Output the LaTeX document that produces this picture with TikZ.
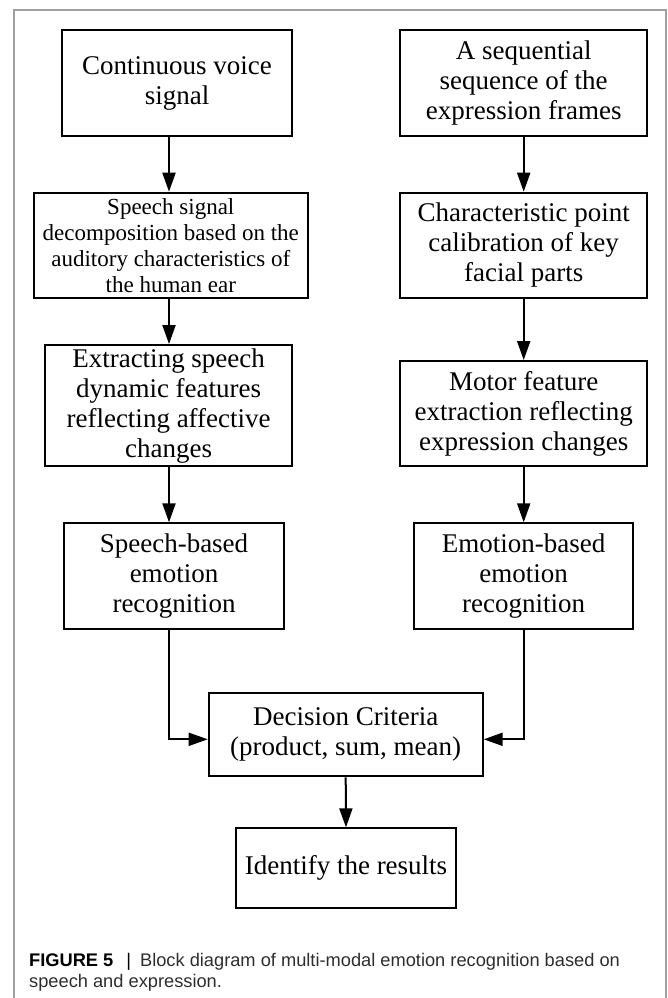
\documentclass[tikz,border=0pt]{standalone}
\usepackage{fontspec}
\setmainfont{Liberation Serif}
\newfontfamily\capfont{Liberation Sans}
\usetikzlibrary{arrows.meta}
\definecolor{framegray}{RGB}{160,160,160}
\definecolor{captext}{RGB}{45,45,45}
\tikzset{
  boxnode/.style={draw=black, line width=2pt, align=center, inner sep=0pt,
    font=\fontsize{27}{30}\selectfont},
  smallbox/.style={boxnode, font=\fontsize{23}{26}\selectfont},
  arr/.style={line width=2pt, -{Triangle[length=19pt,width=13pt]}},
  captionnode/.style={anchor=base west, inner sep=0pt, text=captext,
    font=\capfont\fontsize{18.25}{21}\selectfont}
}
\begin{document}
\begin{tikzpicture}[x=1pt,y=-1pt]
\useasboundingbox (0,0) rectangle (668,998);
% frame
\draw[framegray, line width=1.2pt] (14,998) -- (14,10) -- (666,10) -- (666,998);
% column guides
\coordinate (cL) at (169,0);
\coordinate (cR) at (523.7,0);
% left column
\node[boxnode, minimum width=230pt, minimum height=106pt] (b1) at (177,83) {Continuous voice\\signal};
\node[smallbox, minimum width=273.6pt, minimum height=105.6pt] (b3) at (170.8,245.5) {Speech signal\\decomposition based on the\\auditory characteristics of\\the human ear};
\node[boxnode, minimum width=246.8pt, minimum height=121.3pt] (b5) at (168.6,405.7) {Extracting speech\\dynamic features\\reflecting affective\\changes};
\node[boxnode, minimum width=219.5pt, minimum height=106pt] (b7) at (174,576.3) {Speech-based\\emotion\\recognition};
% right column
\node[boxnode, minimum width=246.5pt, minimum height=106pt] (b2) at (523.7,83) {A sequential\\sequence of the\\expression frames};
\node[boxnode, minimum width=246.5pt, minimum height=105.6pt] (b4) at (523.7,245.5) {Characteristic point\\calibration of key\\facial parts};
\node[boxnode, minimum width=246.5pt, minimum height=105.3pt] (b6) at (523.7,413.7) {Motor feature\\extraction reflecting\\expression changes};
\node[boxnode, minimum width=219pt, minimum height=106pt] (b8) at (523.7,576.3) {Emotion-based\\emotion\\recognition};
% bottom
\node[boxnode, minimum width=274pt, minimum height=83.6pt] (b9) at (345.7,734.5) {Decision Criteria\\(product, sum, mean)};
\node[boxnode, minimum width=219.5pt, minimum height=79.4pt] (b10) at (346,868) {Identify the results};
% connectors
\draw[arr] (b1.south -| cL) -- (b3.north -| cL);
\draw[arr] (b3.south -| cL) -- (b5.north -| cL);
\draw[arr] (b5.south -| cL) -- (b7.north -| cL);
\draw[arr] (b2.south) -- (b4.north);
\draw[arr] (b4.south) -- (b6.north);
\draw[arr] (b6.south) -- (b8.north);
\draw[arr] (b7.south -| cL) |- ([yshift=-4.8pt]b9.west);
\draw[arr] (b8.south) |- ([yshift=-4.8pt]b9.east);
\draw[arr] (b9.south) -- (b10.north);
% caption
\node[captionnode] (cap1) at (29,966) {\textcolor{black}{\textbf{FIGURE 5}}\hspace{13pt}\textcolor{black}{|}\hspace{9pt}Block diagram of multi-modal emotion recognition based on};
\node[captionnode] (cap2) at (29,987) {speech and expression.};
\end{tikzpicture}
\end{document}
